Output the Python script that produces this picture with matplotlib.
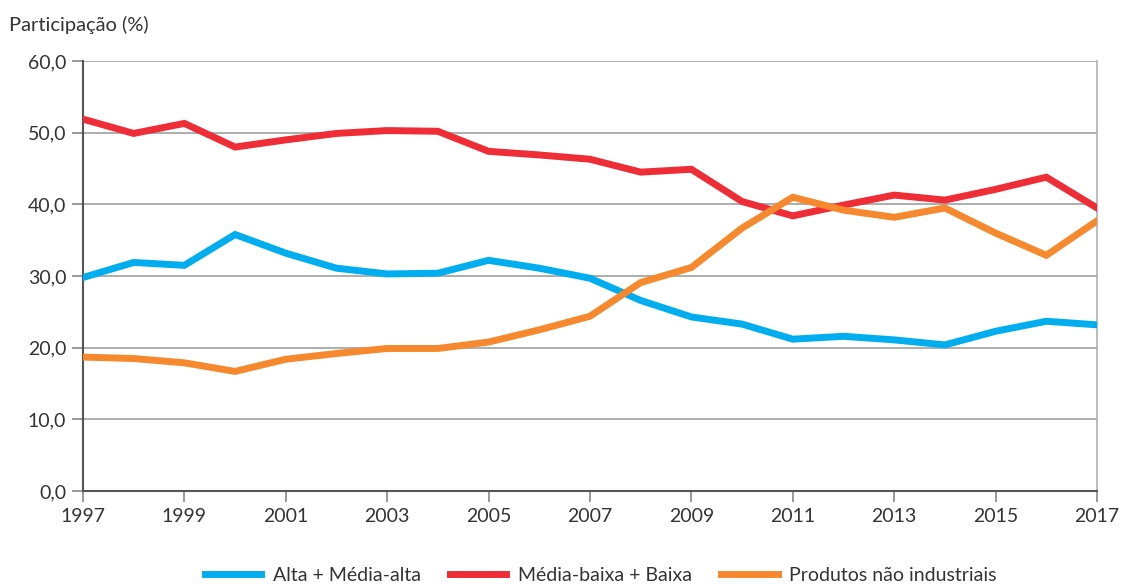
import numpy as np
import matplotlib.pyplot as plt

plt.rcParams['font.family'] = ['Lato', 'DejaVu Sans']

years = list(range(1997, 2018))
alta = [29.8, 31.9, 31.5, 35.8, 33.2, 31.1, 30.3, 30.4, 32.2, 31.1, 29.7,
        26.6, 24.3, 23.3, 21.2, 21.6, 21.1, 20.4, 22.3, 23.7, 23.2]
baixa = [51.9, 49.9, 51.3, 48.0, 49.0, 49.9, 50.3, 50.2, 47.4, 46.9, 46.3,
         44.5, 44.9, 40.4, 38.4, 39.9, 41.3, 40.6, 42.1, 43.8, 39.5]
nao_ind = [18.7, 18.5, 17.9, 16.7, 18.4, 19.2, 19.9, 19.9, 20.8, 22.5, 24.4,
           29.1, 31.2, 36.7, 41.0, 39.2, 38.2, 39.5, 36.0, 32.9, 37.7]
labels = ['Alta + Média-alta', 'Média-baixa + Baixa', 'Produtos não industriais']
colors = ['#00aeef', '#ee2d36', '#f6882e']
yticks = [0, 10, 20, 30, 40, 50, 60]
xticks = list(range(1997, 2018, 2))

fig = plt.figure(figsize=(11.21, 5.84), dpi=100)
ax = fig.add_axes([0.074, 0.159, 0.9046, 0.7365])

for vals, lab, c in zip([alta, baixa, nao_ind], labels, colors):
    ax.plot(years, vals, color=c, lw=5, label=lab, solid_joinstyle='miter', zorder=3)

ax.set_xlim(1997, 2017)
ax.set_ylim(0, 60)
ax.set_yticks(yticks)
ax.set_yticklabels([f'{v:.1f}'.replace('.', ',') for v in yticks])
ax.set_xticks(xticks)
ax.set_xticklabels([str(y) for y in xticks])
ax.grid(axis='y', color='#a0a0a0', lw=1.2, zorder=0)

ax.spines['top'].set_visible(False)
ax.spines['right'].set_color('#b0b0b0')
ax.spines['right'].set_linewidth(1.2)
ax.spines['left'].set_color('#555555')
ax.spines['bottom'].set_color('#555555')
ax.spines['left'].set_linewidth(1.5)
ax.spines['bottom'].set_linewidth(1.5)
ax.tick_params(axis='y', length=8, width=1.2, color='#888888', labelsize=14, labelcolor='#333333', pad=4)
ax.tick_params(axis='x', length=8, width=1.2, color='#888888', labelsize=14, labelcolor='#333333', pad=4)

fig.text(0.008, 0.958, 'Participação (%)', fontsize=14.5, color='#333333', va='center')

fig.legend(loc='lower center', bbox_to_anchor=(0.536, -0.03), ncol=3, frameon=False,
           fontsize=14, handlelength=2.9, columnspacing=1.5, handletextpad=0.6,
           labelcolor='#333333')

fig.savefig('out.png', dpi=100)
